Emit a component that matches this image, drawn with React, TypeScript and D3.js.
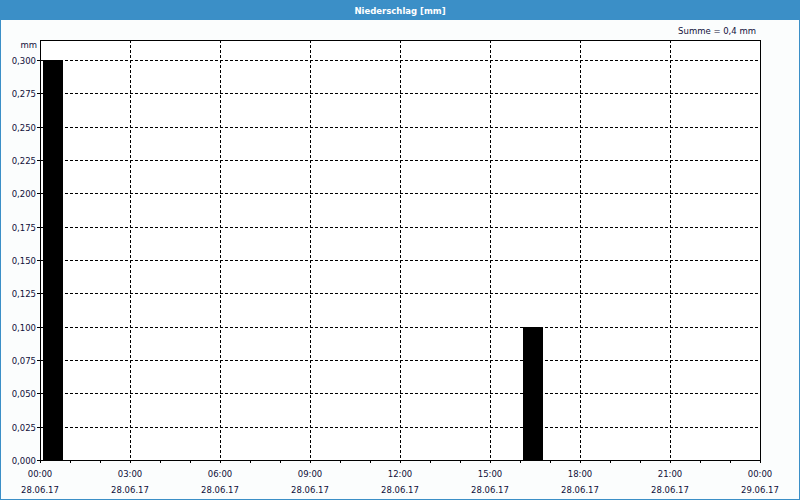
import React from "react";
import * as d3 from "d3";

const hours = d3.range(0, 24);
const precip = [0.3, 0, 0, 0, 0, 0, 0, 0, 0, 0, 0, 0, 0, 0, 0, 0, 0.1, 0, 0, 0, 0, 0, 0, 0];
const yTicks = [0, 0.025, 0.05, 0.075, 0.1, 0.125, 0.15, 0.175, 0.2, 0.225, 0.25, 0.275, 0.3];
const xTickHours = [0, 3, 6, 9, 12, 15, 18, 21, 24];
const xTimeLabels = ["00:00", "03:00", "06:00", "09:00", "12:00", "15:00", "18:00", "21:00", "00:00"];
const xDateLabels = ["28.06.17", "28.06.17", "28.06.17", "28.06.17", "28.06.17", "28.06.17", "28.06.17", "28.06.17", "29.06.17"];
const title = "Niederschlag [mm]";
const unitLabel = "mm";
const sumLabel = "Summe = 0,4 mm";

const W = 800, H = 500;
const M = { left: 40, right: 40, top: 40, bottom: 40 };
const FONT = "'DejaVu Sans', Verdana, sans-serif";
const TXT = "#10103a";

export default function App() {
  const x = d3.scaleLinear().domain([0, 24]).range([M.left, W - M.right]);
  const y = d3.scaleLinear().domain([0, 0.315]).range([H - M.bottom, M.top]);
  const fmt = (v: number) => v.toFixed(3).replace(".", ",");
  const hourW = x(1) - x(0);
  const x0 = M.left, x1 = W - M.right, y0 = H - M.bottom, y1 = M.top;

  return (
    <svg width={W} height={H} style={{ position: "absolute", left: 0, top: 0, display: "block" }}
      shapeRendering="crispEdges" fontFamily={FONT}>
      <rect x={0} y={0} width={W} height={H} fill="#fbfdfd" />
      <rect x={0.5} y={0.5} width={W - 1} height={H - 1} fill="none" stroke="#3b8fc7" />
      <rect x={0} y={0} width={W} height={20} fill="#3b8fc7" />
      <text x={W / 2} y={14} textAnchor="middle" fill="#fff" fontSize={8.5} fontWeight="bold">{title}</text>
      <text x={756} y={34} textAnchor="end" fill={TXT} fontSize={8.5}>{sumLabel}</text>
      <text x={37} y={48} textAnchor="end" fill={TXT} fontSize={8.5}>{unitLabel}</text>
      <rect x={x0} y={y1} width={x1 - x0} height={y0 - y1} fill="#fff" />
      {/* horizontal grid */}
      {yTicks.map((t) => (
        <g key={"y" + t}>
          {t > 0 && <line x1={x0} x2={x1} y1={Math.round(y(t)) + 0.5} y2={Math.round(y(t)) + 0.5} stroke="#000" strokeDasharray="3,2" />}
          <line x1={x0 - 3} x2={x0} y1={Math.round(y(t)) + 0.5} y2={Math.round(y(t)) + 0.5} stroke="#000" />
          <text x={36} y={Math.round(y(t)) + 3.5} textAnchor="end" fill={TXT} fontSize={8.5}>{fmt(t)}</text>
        </g>
      ))}
      {/* vertical grid */}
      {xTickHours.map((h, i) => (
        <g key={"x" + h}>
          {h > 0 && h < 24 && <line x1={Math.round(x(h)) + 0.5} x2={Math.round(x(h)) + 0.5} y1={y1} y2={y0} stroke="#000" strokeDasharray="3,2" />}
          <text x={x(h)} y={477} textAnchor="middle" fill={TXT} fontSize={8.5}>{xTimeLabels[i]}</text>
          <text x={x(h)} y={493} textAnchor="middle" fill={TXT} fontSize={8.5}>{xDateLabels[i]}</text>
        </g>
      ))}
      {/* minor hourly ticks */}
      {d3.range(0, 25).map((h) => (
        <line key={"m" + h} x1={Math.round(x(h)) + 0.5} x2={Math.round(x(h)) + 0.5} y1={y0} y2={y0 + 3} stroke="#000" />
      ))}
      {/* bars */}
      {hours.map((h, i) => precip[i] > 0 && (
        <rect key={"b" + h} x={x(h) + hourW * 0.1} y={y(precip[i])} width={hourW * 0.68} height={y0 - y(precip[i])} fill="#000" />
      ))}
      <rect x={x0 + 0.5} y={y1 + 0.5} width={x1 - x0} height={y0 - y1} fill="none" stroke="#000" />
    </svg>
  );
}
